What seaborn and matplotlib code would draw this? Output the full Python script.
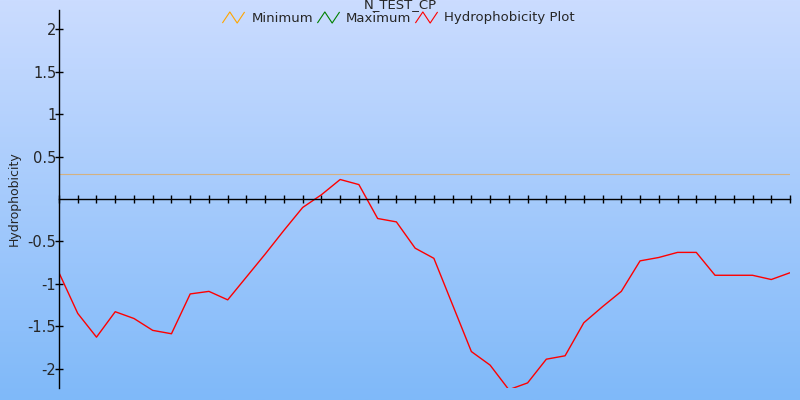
import numpy as np
import pandas as pd
import seaborn as sns
import matplotlib.pyplot as plt
from matplotlib.lines import Line2D
from matplotlib.path import Path
from matplotlib.colors import LinearSegmentedColormap

# hydrophobicity per residue window
positions = list(range(40))
hydrophobicity = [
    -0.87, -1.35, -1.63, -1.33, -1.41, -1.55, -1.59, -1.12, -1.09, -1.19,
    -0.92, -0.65, -0.37, -0.10, 0.05, 0.23, 0.17, -0.23, -0.27, -0.58,
    -0.70, -1.25, -1.80, -1.96, -2.25, -2.17, -1.89, -1.85, -1.46, -1.27,
    -1.09, -0.73, -0.69, -0.63, -0.63, -0.90, -0.90, -0.90, -0.95, -0.87,
]
minimum_value = 0.3
y_ticks = [-2, -1.5, -1, -0.5, 0.5, 1, 1.5, 2]
y_tick_labels = ['-2', '-1.5', '-1', '-0.5', '0.5', '1', '1.5', '2']


def main():
    sns.set_style('white')
    plt.rcParams['font.family'] = ['DejaVu Sans']

    fig = plt.figure(figsize=(8, 4), dpi=100)

    # gradient background
    bg = fig.add_axes([0, 0, 1, 1], zorder=0)
    cmap = LinearSegmentedColormap.from_list('bg', ['#cbdcff', '#7fb9f9'])
    bg.imshow(np.linspace(0, 1, 256).reshape(-1, 1), aspect='auto', cmap=cmap,
              extent=[0, 1, 0, 1])
    bg.set_axis_off()

    ax = fig.add_axes([59 / 800, 12 / 400, 731 / 800, 378 / 400], zorder=1)
    ax.set_facecolor('none')

    df = pd.DataFrame({'pos': positions, 'hyd': hydrophobicity})
    sns.lineplot(data=df, x='pos', y='hyd', color='red', linewidth=1, ax=ax)
    ax.axhline(minimum_value, color='#f0a030', linewidth=0.8, alpha=0.6)

    ax.set_xlim(0, 39)
    ax.set_ylim(-2.23, 2.23)
    ax.set_xticks(positions)
    ax.set_xticklabels([])
    ax.set_yticks(y_ticks)
    ax.set_yticklabels(y_tick_labels)
    ax.set_xlabel('')
    ax.set_ylabel('Hydrophobicity', fontsize=9)
    ax.yaxis.set_label_coords(-38 / 731, 0.5)

    for side in ['top', 'right']:
        ax.spines[side].set_visible(False)
    ax.spines['bottom'].set_position(('data', 0))
    ax.spines['left'].set_color('black')
    ax.spines['bottom'].set_color('black')
    ax.spines['left'].set_linewidth(1)
    ax.spines['bottom'].set_linewidth(1)
    ax.tick_params(axis='x', direction='inout', length=6, width=1, color='black',
                   bottom=True)
    ax.tick_params(axis='y', direction='inout', length=6, width=1, color='black',
                   labelsize=10.5, pad=-1, left=True)

    zigzag = Path([(-1, -0.5), (-0.33, 0.5), (0.33, -0.5), (1, 0.5)],
                  [Path.MOVETO, Path.LINETO, Path.LINETO, Path.LINETO])
    handles = [
        Line2D([], [], linestyle='none', marker=zigzag, markersize=16,
               markerfacecolor='none', markeredgecolor=c, markeredgewidth=0.8)
        for c in ['orange', 'green', 'red']
    ]
    fig.legend(handles, ['Minimum', 'Maximum', 'Hydrophobicity Plot'],
               loc='center', bbox_to_anchor=(0.5, 1 - 18 / 400), ncol=3,
               frameon=False, fontsize=9.5, handlelength=1.2,
               handletextpad=0.8, columnspacing=0.5, borderpad=0)
    fig.text(0.5, 1 - 5 / 400, 'N_TEST_CP', ha='center', va='center',
             fontsize=9.5)

    fig.savefig('out.png', dpi=100)


if __name__ == '__main__':
    main()
